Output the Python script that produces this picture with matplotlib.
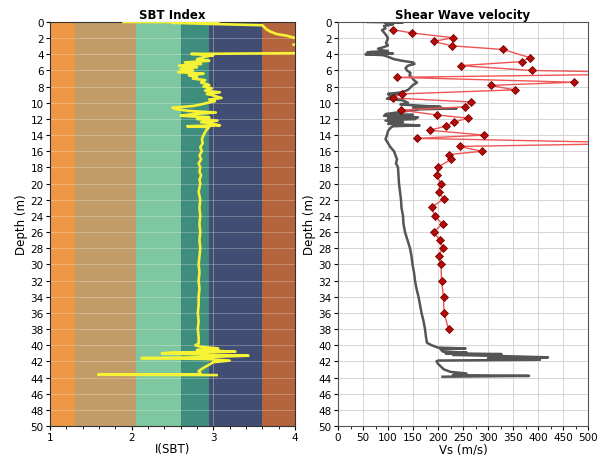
import matplotlib
matplotlib.use("Agg")
import matplotlib.pyplot as plt
from matplotlib.ticker import MultipleLocator

# ---- SBT zone boundaries and colours ----
sbt_bounds = [1.0, 1.31, 2.05, 2.6, 2.95, 3.6, 4.0]
sbt_colors = ["#EE9845", "#C19C68", "#7FC7A0", "#3F8D7C", "#414D72", "#B5653D"]

# ---- SBT index trace (depth m, I(SBT)) ----
sbt_depth = [0.0, 0.02, 0.1, 0.25, 0.4, 0.6, 0.9, 1.2, 1.5, 1.7, 1.9, 2.1, 2.5, 2.8, 3.0, 3.5,
             3.85, 3.95, 4.1, 4.3, 4.6, 4.8, 5.0, 5.2, 5.4, 5.6, 5.8, 6.0, 6.2, 6.4, 6.6, 6.8,
             7.0, 7.2, 7.5, 7.8, 8.0, 8.2, 8.5, 8.7, 8.9, 9.1, 9.4, 9.6, 9.8, 10.0, 10.2, 10.4,
             10.6, 10.8, 11.0, 11.2, 11.4, 11.6, 11.8, 12.0, 12.2, 12.4, 12.6, 12.8, 12.9, 13.0,
             13.3, 13.6, 14.0, 14.5, 15.0, 15.5, 16.0, 16.5, 17.0, 17.5, 18.0, 18.5, 19.0, 19.5,
             20.0, 21.0, 22.0, 23.0, 24.0, 25.0, 26.0, 27.0, 28.0, 29.0, 30.0, 31.0, 32.0, 33.0,
             34.0, 35.0, 36.0, 37.0, 38.0, 39.0, 39.8, 40.0, 40.2, 40.4, 40.6, 40.8, 40.9, 41.0,
             41.2, 41.3, 41.5, 41.6, 41.7, 41.9, 42.1, 42.4, 42.8, 43.2, 43.6, 43.65, 43.7]
sbt_index = [1.9, 3.06, 2.5, 3.0, 3.6, 3.62, 3.65, 3.7, 3.78, 3.9, 3.97, 4.05, 4.2, 3.98, 4.3, 4.5,
             4.1, 2.73, 3.0, 2.9, 2.8, 2.95, 2.65, 2.85, 2.58, 2.8, 2.6, 2.75, 2.57, 2.88, 2.7, 2.8,
             2.75, 2.9, 2.85, 2.95, 2.88, 2.98, 2.9, 3.08, 2.92, 3.0, 3.1, 2.95, 3.02, 2.93, 2.85, 2.75,
             2.5, 2.55, 2.7, 3.03, 2.75, 2.6, 2.95, 2.8, 3.05, 2.85, 3.0, 3.08, 2.68, 2.95,
             2.92, 2.9, 2.88, 2.86, 2.87, 2.84, 2.86, 2.83, 2.85, 2.82, 2.84, 2.83, 2.85, 2.83,
             2.84, 2.82, 2.84, 2.83, 2.84, 2.83, 2.84, 2.83, 2.84, 2.83, 2.82, 2.83, 2.82, 2.83,
             2.82, 2.82, 2.81, 2.82, 2.81, 2.82, 2.82, 2.78, 2.85, 3.06, 2.8, 3.27, 2.5, 2.37,
             3.0, 3.43, 2.8, 2.12, 2.9, 3.2, 3.0, 2.95, 2.88, 2.82, 2.85, 1.59, 3.04]

# ---- CPT-derived Vs trace (grey) ----
cpt_depth = [0.0, 0.05, 0.15, 0.3, 0.5, 0.8, 1.0, 1.3, 1.6, 2.0, 2.3, 2.6, 2.9, 3.1, 3.3, 3.5,
             3.6, 3.7, 3.8, 3.9, 4.0, 4.1, 4.3, 4.6, 4.8, 5.0, 5.2, 5.4, 5.7, 6.0, 6.3, 6.6,
             6.9, 7.2, 7.5, 7.8, 8.1, 8.4, 8.7, 8.9, 9.0, 9.1, 9.3, 9.5, 9.7, 10.0, 10.2, 10.4,
             10.5, 10.6, 10.7, 10.8, 11.0, 11.2, 11.4, 11.5, 11.6, 11.8, 11.9, 12.0, 12.2, 12.4,
             12.6, 12.8, 12.9, 13.1, 13.5, 14.0, 14.5, 15.0, 15.5, 16.0, 16.5, 17.0, 17.5, 18.0,
             19.0, 20.0, 21.0, 22.0, 23.0, 24.0, 25.0, 26.0, 27.0, 28.0, 29.0, 30.0, 31.0, 32.0,
             33.0, 34.0, 35.0, 36.0, 37.0, 38.0, 39.0, 39.7, 40.0, 40.3, 40.4, 40.5, 40.8, 40.9,
             41.0, 41.1, 41.2, 41.4, 41.5, 41.6, 41.8, 41.9, 42.0, 42.3, 42.6, 43.0, 43.3, 43.5,
             43.7, 43.8, 43.9]
cpt_vs = [60, 130, 95, 110, 92, 95, 88, 92, 96, 100, 98, 96, 100, 92, 80, 88,
          100, 65, 58, 110, 55, 90, 100, 112, 128, 150, 153, 140, 135, 138, 145, 143,
          148, 152, 158, 150, 145, 140, 128, 100, 120, 102, 115, 98, 130, 140, 125, 175,
          205, 150, 237, 165, 140, 118, 95, 150, 92, 160, 100, 155, 95, 130,
          100, 163, 110, 105, 100, 98, 95, 100, 105, 112, 115, 118, 116, 120,
          121, 122, 124, 126, 127, 130, 131, 134, 139, 144, 147, 149, 152, 154,
          157, 161, 164, 167, 171, 174, 176, 178, 187, 200, 255, 205, 210, 257,
          215, 327, 230, 360, 420, 300, 404, 200, 197, 200, 205, 212, 225, 257,
          230, 382, 209]

# ---- SCPT / measured Vs (red diamonds) ----
meas_depth = [0.95, 1.35, 1.95, 2.4, 2.95, 3.4, 4.4, 4.9, 5.4, 6.0, 6.35, 6.85, 7.45, 7.85,
              8.4, 8.9, 9.4, 9.9, 10.5, 10.9, 11.5, 11.9, 12.4, 12.9, 13.4, 14.0, 14.4, 15.0,
              15.4, 16.0, 16.4, 17.0, 18.0, 18.9, 20.0, 21.0, 21.9, 22.9, 24.0, 25.0, 26.0,
              27.0, 28.0, 29.0, 30.0, 32.0, 34.0, 36.0, 38.0]
meas_vs = [109, 147, 230, 191, 228, 330, 383, 368, 245, 387, 710, 117, 471, 305,
           353, 127, 110, 265, 253, 125, 197, 260, 231, 215, 183, 292, 158, 630,
           243, 288, 222, 226, 199, 198, 205, 201, 211, 188, 193, 209, 191,
           204, 209, 201, 206, 207, 211, 212, 221]

depth_ticks = list(range(0, 51, 2))

plt.rcParams['font.family'] = ['DejaVu Sans']
fig = plt.figure(figsize=(6.05, 4.56), dpi=100)
fig.patch.set_facecolor("white")


def style_axes(ax, spine_color):
    ax.tick_params(axis="both", labelsize=7.5, direction="out", length=3, width=0.8, pad=1.5)
    ax.tick_params(axis="x", which="minor", length=2, width=0.6)
    for s in ax.spines.values():
        s.set_color(spine_color)
        s.set_linewidth(0.8)


# ---------- Left: SBT Index ----------
ax1 = fig.add_axes([50 / 605, 1 - 427 / 456, 245 / 605, 404 / 456])
for i, c in enumerate(sbt_colors):
    ax1.axvspan(sbt_bounds[i], sbt_bounds[i + 1], color=c, lw=0, zorder=0)
for d in depth_ticks:
    ax1.axhline(d, color="white", lw=0.6, alpha=0.3, zorder=1)
ax1.axvline(3.0, color="white", lw=0.6, alpha=0.35, zorder=1)
ax1.plot(sbt_index, sbt_depth, color="#F6F235", lw=1.9, zorder=3)
ax1.set_xlim(1, 4)
ax1.set_ylim(50, 0)
ax1.set_xticks([1, 2, 3, 4])
ax1.xaxis.set_minor_locator(MultipleLocator(0.2))
ax1.set_yticks(depth_ticks)
ax1.set_title("SBT Index", fontsize=8.5, fontweight="bold", pad=3)
ax1.set_xlabel("I(SBT)", fontsize=8.5, labelpad=0)
ax1.set_ylabel("Depth (m)", fontsize=8.5, labelpad=2)
style_axes(ax1, "#333333")

# ---------- Right: Shear wave velocity ----------
ax2 = fig.add_axes([338 / 605, 1 - 427 / 456, 250 / 605, 404 / 456])
ax2.set_xlim(0, 500)
ax2.set_ylim(50, 0)
ax2.set_xticks(range(0, 501, 50))
ax2.xaxis.set_minor_locator(MultipleLocator(25))
ax2.set_yticks(depth_ticks)
ax2.grid(True, which="major", color="#D5D5D5", lw=0.7)
ax2.set_axisbelow(True)
ax2.plot(cpt_vs, cpt_depth, color="#555555", lw=1.8, zorder=2)
ax2.plot(meas_vs, meas_depth, color="#F05555", lw=1.0, marker="D", markersize=4.5,
         markerfacecolor="#B40A0A", markeredgecolor="#7A0000", markeredgewidth=0.6, zorder=3)
ax2.set_title("Shear Wave velocity", fontsize=8.5, fontweight="bold", pad=3)
ax2.set_xlabel("Vs (m/s)", fontsize=8.5, labelpad=0)
ax2.set_ylabel("Depth (m)", fontsize=8.5, labelpad=2)
style_axes(ax2, "#555555")

fig.savefig("out.png", dpi=100, facecolor="white")
